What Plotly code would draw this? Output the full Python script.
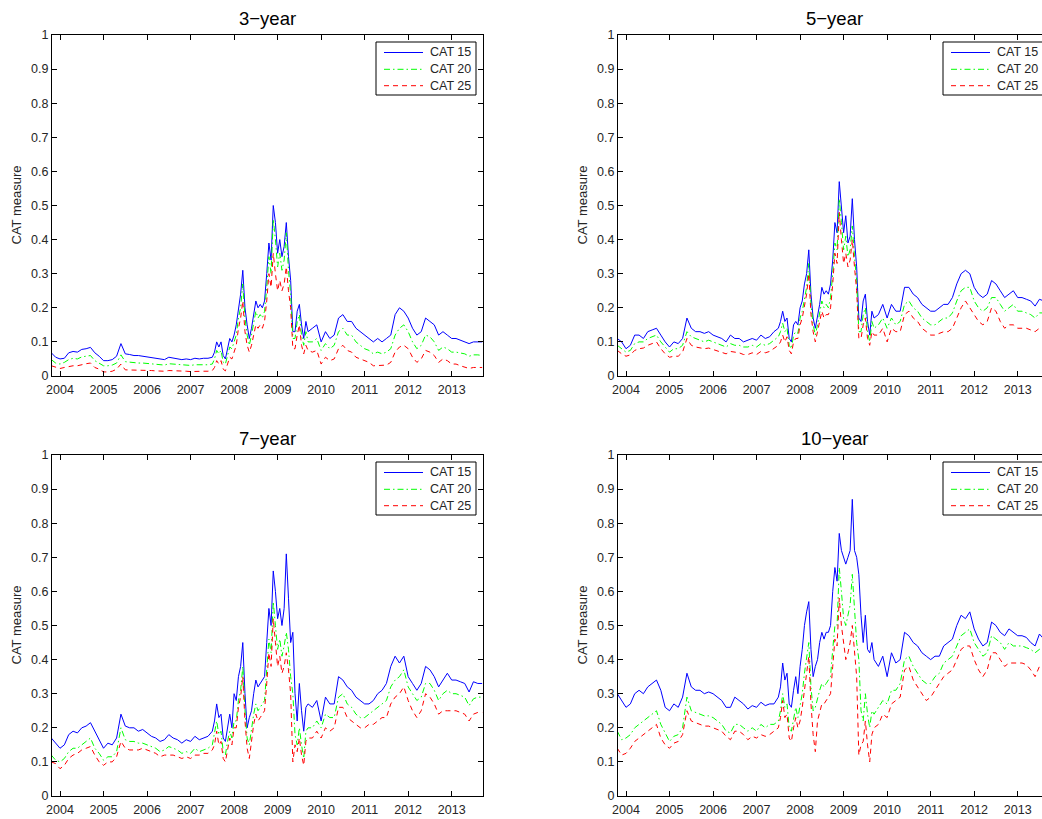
import plotly.graph_objects as go

# Sample dates (decimal years); finer spacing through the 2007-2009 crisis
YEARS = [
    2003.8, 2003.9, 2004.0, 2004.1, 2004.2, 2004.3, 2004.4, 2004.5, 2004.6, 2004.7,
    2004.8, 2004.9, 2005.0, 2005.1, 2005.2, 2005.3, 2005.4, 2005.5, 2005.6, 2005.7,
    2005.8, 2005.9, 2006.0, 2006.1, 2006.2, 2006.3, 2006.4, 2006.5, 2006.6, 2006.7,
    2006.8, 2006.9, 2007.0, 2007.1, 2007.2, 2007.3, 2007.4, 2007.5,
    2007.55, 2007.6, 2007.65, 2007.7, 2007.75, 2007.8, 2007.85, 2007.9, 2007.95, 2008.0,
    2008.05, 2008.1, 2008.15, 2008.2, 2008.25, 2008.3, 2008.35, 2008.4, 2008.45, 2008.5,
    2008.55, 2008.6, 2008.65, 2008.7, 2008.75, 2008.8, 2008.85, 2008.9, 2008.95, 2009.0,
    2009.05, 2009.1, 2009.15, 2009.2, 2009.25, 2009.3, 2009.35, 2009.4, 2009.45, 2009.5,
    2009.55, 2009.6, 2009.65, 2009.7,
    2009.8, 2009.9, 2010.0, 2010.1, 2010.2, 2010.3, 2010.4, 2010.5, 2010.6, 2010.7,
    2010.8, 2010.9, 2011.0, 2011.1, 2011.2, 2011.3, 2011.4, 2011.5, 2011.6, 2011.7,
    2011.8, 2011.9, 2012.0, 2012.1, 2012.2, 2012.3, 2012.4, 2012.5, 2012.6, 2012.7,
    2012.8, 2012.9, 2013.0, 2013.1, 2013.2, 2013.3, 2013.4, 2013.5, 2013.6, 2013.7,
]

# ---- 3-year maturity ----
cat15_3y = [
    0.068, 0.055, 0.05, 0.052, 0.068, 0.072, 0.07, 0.078, 0.08, 0.084,
    0.068, 0.058, 0.045, 0.045, 0.048, 0.058, 0.095, 0.065, 0.063, 0.06,
    0.06, 0.058, 0.058, 0.055, 0.052, 0.05, 0.048, 0.055, 0.053, 0.05,
    0.048, 0.05, 0.048, 0.052, 0.05, 0.052, 0.052, 0.055,
    0.07, 0.1, 0.085, 0.1, 0.06, 0.05, 0.08, 0.11, 0.1, 0.12,
    0.15, 0.2, 0.24, 0.31, 0.2, 0.15, 0.11, 0.14, 0.18, 0.22,
    0.2, 0.21, 0.2, 0.22, 0.3, 0.39, 0.34, 0.5, 0.45, 0.36,
    0.4, 0.35, 0.38, 0.45, 0.35, 0.28, 0.13, 0.13, 0.19, 0.21,
    0.15, 0.11, 0.16, 0.13,
    0.14, 0.15, 0.1, 0.13, 0.11, 0.12, 0.17, 0.18, 0.16, 0.16,
    0.14, 0.13, 0.12, 0.11, 0.1, 0.11, 0.1, 0.11, 0.12, 0.18,
    0.2, 0.19, 0.17, 0.14, 0.12, 0.13, 0.17, 0.16, 0.15, 0.12,
    0.13, 0.12, 0.11, 0.11, 0.105, 0.1, 0.095, 0.1, 0.1, 0.1,
]
cat20_3y = [
    0.048, 0.038, 0.035, 0.04, 0.048, 0.052, 0.05, 0.056, 0.058, 0.06,
    0.045, 0.038, 0.03, 0.03, 0.032, 0.038, 0.062, 0.042, 0.04, 0.04,
    0.038, 0.038, 0.037, 0.036, 0.034, 0.033, 0.032, 0.036, 0.035, 0.033,
    0.032, 0.033, 0.031, 0.033, 0.032, 0.033, 0.033, 0.035,
    0.05, 0.075, 0.065, 0.075, 0.04, 0.035, 0.06, 0.085, 0.08, 0.1,
    0.12, 0.17, 0.2, 0.27, 0.17, 0.12, 0.09, 0.12, 0.15, 0.19,
    0.17, 0.18, 0.17, 0.19, 0.26, 0.35, 0.3, 0.46, 0.4, 0.32,
    0.36, 0.31, 0.34, 0.42, 0.31, 0.24, 0.11, 0.11, 0.16, 0.18,
    0.12, 0.09, 0.13, 0.1,
    0.1, 0.11, 0.075, 0.095, 0.08, 0.09, 0.13, 0.14, 0.12, 0.12,
    0.1, 0.09, 0.08, 0.075, 0.065, 0.07, 0.065, 0.07, 0.08, 0.12,
    0.14, 0.15, 0.13, 0.1, 0.08, 0.09, 0.12, 0.115, 0.1, 0.075,
    0.085, 0.08, 0.07, 0.07, 0.068, 0.065, 0.058, 0.062, 0.062, 0.06,
]
cat25_3y = [
    0.03, 0.025, 0.022, 0.025, 0.028, 0.03, 0.03, 0.034, 0.036, 0.038,
    0.025, 0.02, 0.012, 0.012, 0.014, 0.02, 0.035, 0.018, 0.018, 0.018,
    0.017, 0.017, 0.017, 0.016, 0.015, 0.014, 0.014, 0.016, 0.016, 0.015,
    0.014, 0.014, 0.013, 0.014, 0.014, 0.014, 0.014, 0.016,
    0.025, 0.045, 0.035, 0.045, 0.02, 0.015, 0.035, 0.055, 0.05, 0.07,
    0.09, 0.14, 0.17, 0.22, 0.13, 0.09, 0.07, 0.09, 0.12, 0.15,
    0.14, 0.15, 0.14, 0.16, 0.22, 0.3, 0.26, 0.36, 0.3, 0.25,
    0.28, 0.25, 0.27, 0.32, 0.25, 0.2, 0.08, 0.08, 0.12, 0.15,
    0.09, 0.065, 0.09, 0.075,
    0.07, 0.075, 0.035, 0.055, 0.045, 0.05, 0.08, 0.09, 0.075, 0.07,
    0.055, 0.05, 0.045, 0.04, 0.03, 0.03, 0.03, 0.032, 0.04, 0.07,
    0.085, 0.09, 0.08, 0.055, 0.04, 0.05, 0.075, 0.07, 0.06, 0.04,
    0.05, 0.045, 0.035, 0.035, 0.03, 0.025, 0.022, 0.025, 0.025, 0.025,
]

# ---- 5-year maturity ----
cat15_5y = [
    0.11, 0.1, 0.08, 0.09, 0.12, 0.12, 0.11, 0.13, 0.135, 0.14,
    0.12, 0.1, 0.085, 0.1, 0.095, 0.11, 0.17, 0.14, 0.13, 0.13,
    0.125, 0.13, 0.12, 0.115, 0.11, 0.1, 0.12, 0.11, 0.11, 0.1,
    0.105, 0.11, 0.105, 0.12, 0.11, 0.115, 0.13, 0.14,
    0.16, 0.19, 0.16, 0.17, 0.11, 0.1, 0.15, 0.16, 0.15, 0.2,
    0.22, 0.27, 0.3, 0.37, 0.24, 0.17, 0.14, 0.17, 0.21, 0.26,
    0.24, 0.25, 0.24, 0.27, 0.34, 0.45, 0.42, 0.57, 0.5, 0.42,
    0.47, 0.39, 0.41, 0.52, 0.4, 0.32, 0.17, 0.16, 0.22, 0.24,
    0.16, 0.12, 0.19, 0.17,
    0.18, 0.21, 0.17, 0.21, 0.19, 0.19, 0.26, 0.26, 0.24, 0.23,
    0.21, 0.2, 0.19, 0.19, 0.2, 0.21, 0.21, 0.23, 0.27, 0.3,
    0.31, 0.3, 0.26, 0.24, 0.23, 0.24, 0.28, 0.27, 0.25, 0.23,
    0.24, 0.25, 0.23, 0.23, 0.225, 0.22, 0.205, 0.225, 0.22, 0.22,
]
cat20_5y = [
    0.09, 0.08, 0.07, 0.075, 0.095, 0.1, 0.1, 0.11, 0.115, 0.12,
    0.1, 0.085, 0.07, 0.08, 0.08, 0.09, 0.13, 0.115, 0.11, 0.105,
    0.1, 0.105, 0.1, 0.095, 0.09, 0.085, 0.095, 0.09, 0.09, 0.085,
    0.085, 0.09, 0.085, 0.095, 0.09, 0.095, 0.105, 0.115,
    0.13, 0.155, 0.13, 0.14, 0.09, 0.08, 0.12, 0.13, 0.125, 0.17,
    0.19, 0.23, 0.26, 0.33, 0.21, 0.15, 0.12, 0.15, 0.18, 0.22,
    0.2, 0.21, 0.2, 0.23, 0.3, 0.39, 0.37, 0.52, 0.45, 0.37,
    0.41, 0.35, 0.37, 0.44, 0.35, 0.28, 0.13, 0.13, 0.18, 0.2,
    0.13, 0.1, 0.16, 0.14,
    0.15, 0.17, 0.14, 0.17, 0.15, 0.16, 0.21, 0.22, 0.2, 0.19,
    0.17, 0.16, 0.15, 0.15, 0.16, 0.17, 0.17, 0.185, 0.22, 0.25,
    0.26, 0.26, 0.22, 0.2, 0.19, 0.2, 0.23, 0.23, 0.21, 0.19,
    0.2, 0.21, 0.19, 0.19, 0.185, 0.18, 0.17, 0.185, 0.185, 0.185,
]
cat25_5y = [
    0.075, 0.065, 0.058, 0.062, 0.075, 0.08, 0.082, 0.09, 0.095, 0.1,
    0.08, 0.065, 0.055, 0.058, 0.058, 0.07, 0.11, 0.09, 0.085, 0.082,
    0.08, 0.082, 0.078, 0.075, 0.07, 0.065, 0.072, 0.07, 0.068, 0.063,
    0.063, 0.068, 0.063, 0.072, 0.068, 0.072, 0.082, 0.09,
    0.1, 0.12, 0.1, 0.115, 0.075, 0.065, 0.1, 0.11, 0.11, 0.15,
    0.17, 0.21, 0.24, 0.3, 0.18, 0.13, 0.1, 0.13, 0.16, 0.19,
    0.17, 0.18, 0.18, 0.2, 0.27, 0.36, 0.33, 0.48, 0.4, 0.33,
    0.36, 0.32, 0.34, 0.4, 0.32, 0.25, 0.11, 0.11, 0.15, 0.17,
    0.11, 0.09, 0.13, 0.12,
    0.12, 0.14, 0.1, 0.14, 0.13, 0.13, 0.18, 0.19, 0.17, 0.16,
    0.14, 0.13, 0.12, 0.12, 0.125, 0.13, 0.13, 0.14, 0.17, 0.2,
    0.22, 0.2, 0.18, 0.16, 0.15, 0.16, 0.2, 0.19, 0.16, 0.14,
    0.15, 0.15, 0.14, 0.14, 0.14, 0.135, 0.13, 0.14, 0.14, 0.14,
]

# ---- 7-year maturity ----
cat15_7y = [
    0.17, 0.155, 0.14, 0.15, 0.18, 0.19, 0.185, 0.2, 0.205, 0.215,
    0.19, 0.165, 0.14, 0.155, 0.15, 0.17, 0.24, 0.205, 0.2, 0.2,
    0.19, 0.195, 0.185, 0.175, 0.17, 0.16, 0.165, 0.18, 0.17, 0.165,
    0.155, 0.165, 0.16, 0.175, 0.165, 0.17, 0.175, 0.19,
    0.22, 0.27, 0.23, 0.24, 0.17, 0.16, 0.2, 0.24, 0.2, 0.3,
    0.28, 0.35, 0.38, 0.45, 0.3, 0.2, 0.23, 0.25, 0.3, 0.34,
    0.32, 0.33, 0.34, 0.35, 0.45, 0.55, 0.5, 0.66, 0.6, 0.52,
    0.55, 0.5, 0.55, 0.71, 0.58, 0.45, 0.48, 0.3, 0.22, 0.33,
    0.25, 0.19, 0.26, 0.27,
    0.26, 0.28, 0.22, 0.29, 0.27, 0.27, 0.35, 0.34, 0.32, 0.31,
    0.29, 0.28, 0.27, 0.27, 0.28, 0.3, 0.31, 0.33, 0.38, 0.41,
    0.39, 0.41, 0.35, 0.33, 0.31, 0.33, 0.38, 0.37, 0.35, 0.32,
    0.34, 0.36, 0.34, 0.34, 0.335, 0.33, 0.305, 0.335, 0.33, 0.33,
]
cat20_7y = [
    0.12, 0.105, 0.1, 0.11, 0.13, 0.14, 0.14, 0.15, 0.16, 0.17,
    0.14, 0.125, 0.105, 0.115, 0.115, 0.13, 0.2, 0.165, 0.16, 0.16,
    0.155, 0.155, 0.15, 0.145, 0.14, 0.13, 0.135, 0.145, 0.14, 0.135,
    0.125, 0.13, 0.125, 0.14, 0.13, 0.135, 0.14, 0.15,
    0.18, 0.22, 0.18, 0.19, 0.13, 0.12, 0.16, 0.19, 0.17, 0.22,
    0.22, 0.28, 0.31, 0.38, 0.25, 0.17, 0.15, 0.2, 0.24, 0.27,
    0.25, 0.26, 0.27, 0.28, 0.37, 0.46, 0.42, 0.57, 0.5, 0.43,
    0.46, 0.41, 0.44, 0.48, 0.43, 0.35, 0.3, 0.18, 0.15, 0.2,
    0.15, 0.11, 0.19, 0.2,
    0.2, 0.22, 0.2, 0.24, 0.23, 0.23, 0.29, 0.3, 0.27, 0.26,
    0.24, 0.23, 0.23, 0.24, 0.25, 0.26, 0.27, 0.28, 0.32, 0.34,
    0.35, 0.37, 0.32, 0.3, 0.28, 0.29, 0.33, 0.33, 0.31, 0.28,
    0.3, 0.31, 0.3, 0.3, 0.295, 0.29, 0.265, 0.285, 0.29, 0.29,
]
cat25_7y = [
    0.1, 0.095, 0.08, 0.09, 0.11, 0.12, 0.125, 0.135, 0.14, 0.145,
    0.12, 0.1, 0.09, 0.1, 0.1, 0.115, 0.16, 0.14, 0.135, 0.135,
    0.135, 0.14, 0.135, 0.13, 0.125, 0.115, 0.12, 0.12, 0.12, 0.115,
    0.11, 0.115, 0.11, 0.12, 0.12, 0.125, 0.125, 0.135,
    0.15, 0.19, 0.15, 0.16, 0.11, 0.1, 0.14, 0.17, 0.15, 0.2,
    0.2, 0.26, 0.29, 0.35, 0.22, 0.14, 0.11, 0.17, 0.21, 0.24,
    0.22, 0.23, 0.24, 0.25, 0.33, 0.42, 0.38, 0.52, 0.45, 0.38,
    0.41, 0.36, 0.38, 0.42, 0.37, 0.3, 0.1, 0.15, 0.13, 0.17,
    0.12, 0.09, 0.16, 0.17,
    0.17, 0.19, 0.17, 0.2, 0.19, 0.2, 0.26, 0.26, 0.23, 0.22,
    0.21, 0.2, 0.2, 0.21, 0.21, 0.22, 0.23, 0.23, 0.27, 0.29,
    0.3, 0.32, 0.28, 0.25, 0.23, 0.25, 0.3, 0.29, 0.27, 0.24,
    0.25, 0.25, 0.25, 0.25, 0.245, 0.24, 0.22, 0.24, 0.245, 0.245,
]

# ---- 10-year maturity ----
cat15_10y = [
    0.3, 0.28, 0.26, 0.27, 0.3, 0.31, 0.3, 0.32, 0.33, 0.34,
    0.31, 0.26, 0.25, 0.27, 0.26, 0.29, 0.36, 0.32, 0.31, 0.31,
    0.3, 0.305, 0.3, 0.29, 0.28, 0.26, 0.26, 0.29, 0.28, 0.27,
    0.255, 0.265, 0.26, 0.275, 0.265, 0.27, 0.27, 0.29,
    0.32, 0.39, 0.34, 0.36, 0.27, 0.26, 0.31, 0.35, 0.3, 0.38,
    0.43, 0.5, 0.54, 0.57, 0.43, 0.35, 0.38, 0.4, 0.45, 0.48,
    0.46, 0.48, 0.48, 0.5, 0.6, 0.67, 0.63, 0.77, 0.72, 0.7,
    0.68, 0.7, 0.72, 0.87, 0.72, 0.7, 0.65, 0.53, 0.45, 0.53,
    0.43, 0.42, 0.45, 0.4,
    0.38, 0.41, 0.35, 0.42, 0.39, 0.4, 0.48, 0.47, 0.45, 0.44,
    0.42, 0.41, 0.4, 0.41, 0.41, 0.44, 0.45, 0.46, 0.5, 0.53,
    0.52, 0.54, 0.49, 0.46, 0.44, 0.45, 0.51, 0.5, 0.48, 0.47,
    0.49, 0.48, 0.47, 0.47, 0.465, 0.45, 0.44, 0.475, 0.46, 0.46,
]
cat20_10y = [
    0.19, 0.165, 0.17, 0.18, 0.2, 0.21, 0.22, 0.23, 0.24, 0.25,
    0.21, 0.185, 0.16, 0.175, 0.18, 0.2, 0.29, 0.25, 0.245, 0.24,
    0.235, 0.235, 0.23, 0.22, 0.21, 0.19, 0.185, 0.21, 0.21, 0.2,
    0.19, 0.2, 0.19, 0.21, 0.2, 0.21, 0.21, 0.22,
    0.25, 0.3, 0.26, 0.27, 0.2, 0.19, 0.23, 0.26, 0.23, 0.26,
    0.3, 0.36, 0.4, 0.45, 0.32, 0.25, 0.26, 0.29, 0.31, 0.33,
    0.32, 0.33, 0.34, 0.35, 0.43, 0.5, 0.5, 0.67, 0.6, 0.52,
    0.5, 0.53, 0.56, 0.65, 0.55, 0.45, 0.4, 0.25, 0.22, 0.3,
    0.24, 0.2, 0.25, 0.24,
    0.26, 0.28, 0.27, 0.31, 0.31, 0.33, 0.4, 0.41, 0.38, 0.36,
    0.34, 0.33, 0.33, 0.35, 0.36, 0.39, 0.4, 0.41, 0.44, 0.47,
    0.48, 0.49, 0.45, 0.43, 0.41, 0.42, 0.47, 0.46, 0.45, 0.43,
    0.45, 0.44, 0.44, 0.44, 0.435, 0.43, 0.42, 0.43, 0.43, 0.43,
]
cat25_10y = [
    0.14, 0.12, 0.125, 0.14, 0.16, 0.17, 0.18, 0.19, 0.2, 0.21,
    0.17, 0.15, 0.14, 0.155, 0.16, 0.18, 0.25, 0.22, 0.215, 0.21,
    0.205, 0.205, 0.2, 0.195, 0.19, 0.175, 0.165, 0.19, 0.19, 0.18,
    0.165, 0.175, 0.17, 0.18, 0.175, 0.18, 0.19, 0.2,
    0.23, 0.28, 0.23, 0.24, 0.17, 0.16, 0.2, 0.23, 0.2, 0.22,
    0.26, 0.32, 0.36, 0.41, 0.27, 0.18, 0.13, 0.22, 0.25, 0.27,
    0.27, 0.28, 0.29, 0.3, 0.38, 0.46, 0.44, 0.58, 0.5, 0.45,
    0.4, 0.42, 0.45, 0.5, 0.42, 0.35, 0.12, 0.15, 0.16, 0.22,
    0.15, 0.1, 0.18, 0.2,
    0.21, 0.24, 0.23, 0.27, 0.28, 0.29, 0.37, 0.38, 0.34, 0.32,
    0.3, 0.28, 0.29, 0.31, 0.33, 0.35, 0.36, 0.37, 0.4, 0.43,
    0.44, 0.44, 0.4, 0.37, 0.35, 0.37, 0.42, 0.42, 0.4, 0.38,
    0.39, 0.39, 0.39, 0.39, 0.385, 0.37, 0.35, 0.38, 0.39, 0.39,
]

PANEL_TITLES = ["3\u2212year", "5\u2212year", "7\u2212year", "10\u2212year"]
PANEL_SERIES = [
    [cat15_3y, cat20_3y, cat25_3y],
    [cat15_5y, cat20_5y, cat25_5y],
    [cat15_7y, cat20_7y, cat25_7y],
    [cat15_10y, cat20_10y, cat25_10y],
]
SERIES_NAMES = ["CAT 15", "CAT 20", "CAT 25"]
Y_TICKS = [0, 0.1, 0.2, 0.3, 0.4, 0.5, 0.6, 0.7, 0.8, 0.9, 1]
Y_TICK_TEXT = ["0", "0.1", "0.2", "0.3", "0.4", "0.5", "0.6", "0.7", "0.8", "0.9", "1"]
X_TICKS = [2004, 2005, 2006, 2007, 2008, 2009, 2010, 2011, 2012, 2013]
X_TICK_TEXT = [str(y) for y in X_TICKS]

LINE_STYLES = [
    dict(color="#0000ff", width=1, dash="solid"),
    dict(color="#00ff00", width=1, dash="6px,3px,1.5px,3px"),
    dict(color="#ff0000", width=1, dash="5px,4px"),
]

W, H = 1042, 819
FONT = "Liberation Sans, Arial, Helvetica, sans-serif"
INK = "#262626"

# Plot boxes in pixels: (left, right, top, bottom); the right column runs past the page edge
BOXES = [(52, 483, 35, 376), (618, 1050, 35, 376), (52, 483, 455, 796), (618, 1050, 455, 796)]
X_START = 2003.816
PX_PER_YEAR = 43.52

# Legend box geometry (pixels, relative to the plot box's top-right corner)
LEG_W, LEG_TOP, LEG_H = 100, 7, 53
LEG_ROWS = [17.5, 34.3, 50.7]      # row centres below plot top
LEG_LINE = (8, 47)                 # line sample span from legend left edge
LEG_TEXT = 52                      # text start from legend left edge


def px_x(v):
    return v / W


def px_y(v):
    return 1 - v / H


fig = go.Figure()
annotations = []
shapes = []
for i, (title, series, box) in enumerate(zip(PANEL_TITLES, PANEL_SERIES, BOXES)):
    n = i + 1
    left, right, top, bottom = box
    vis_right = min(right, W)
    xa = "x" if n == 1 else f"x{n}"
    ya = "y" if n == 1 else f"y{n}"
    for name, ys, style in zip(SERIES_NAMES, series, LINE_STYLES):
        assert len(ys) == len(YEARS)
        fig.add_trace(go.Scatter(
            x=YEARS, y=ys, name=name, mode="lines", line=style,
            xaxis=xa, yaxis=ya, showlegend=False,
        ))

    clipped = right > W
    axis_common = dict(
        showline=True, linecolor="black", linewidth=1,
        ticks="inside", ticklen=5, tickwidth=1, tickcolor="black",
        showgrid=False, zeroline=False,
        tickfont=dict(family=FONT, size=12.5, color=INK),
    )
    x_end = X_START + (vis_right - left) / PX_PER_YEAR
    fig.layout[f"xaxis{'' if n == 1 else n}"] = dict(
        axis_common,
        domain=[px_x(left), px_x(vis_right)],
        range=[X_START, x_end],
        tickvals=X_TICKS, ticktext=X_TICK_TEXT,
        mirror="ticks", anchor=ya, ticklabelstandoff=2,
    )
    fig.layout[f"yaxis{'' if n == 1 else n}"] = dict(
        axis_common,
        domain=[px_y(bottom), px_y(top)],
        range=[0, 1],
        tickvals=Y_TICKS, ticktext=Y_TICK_TEXT,
        mirror=False if clipped else "ticks", anchor=xa,
    )

    # Panel title and y-axis label
    annotations.append(dict(
        text=title, x=px_x((left + right) / 2), y=px_y(top - 17),
        xref="paper", yref="paper", xanchor="center", yanchor="middle",
        showarrow=False, font=dict(family=FONT, size=18.5, color="black"),
    ))
    annotations.append(dict(
        text="CAT measure", x=px_x(left - 36), y=px_y((top + bottom) / 2),
        xref="paper", yref="paper", xanchor="center", yanchor="middle",
        textangle=-90, showarrow=False, font=dict(family=FONT, size=13, color=INK),
    ))

    # Boxed key in the upper-right corner of each panel
    leg_left = right - 7 - LEG_W
    shapes.append(dict(
        type="rect", xref="paper", yref="paper", layer="above",
        x0=px_x(leg_left), x1=px_x(leg_left + LEG_W),
        y0=px_y(top + LEG_TOP), y1=px_y(top + LEG_TOP + LEG_H),
        line=dict(color="black", width=1), fillcolor="white",
    ))
    for name, style, row in zip(SERIES_NAMES, LINE_STYLES, LEG_ROWS):
        yy = px_y(top + row)
        shapes.append(dict(
            type="line", xref="paper", yref="paper", layer="above",
            x0=px_x(leg_left + LEG_LINE[0]), x1=px_x(leg_left + LEG_LINE[1]),
            y0=yy, y1=yy, line=style,
        ))
        annotations.append(dict(
            text=name, x=px_x(leg_left + LEG_TEXT), y=yy,
            xref="paper", yref="paper", xanchor="left", yanchor="middle",
            showarrow=False, font=dict(family=FONT, size=12.5, color=INK),
        ))

fig.update_layout(
    width=W, height=H,
    margin=dict(l=0, r=0, t=0, b=0, autoexpand=False),
    paper_bgcolor="white", plot_bgcolor="white",
    annotations=annotations, shapes=shapes,
    showlegend=False,
)

fig.write_html("out.html")
